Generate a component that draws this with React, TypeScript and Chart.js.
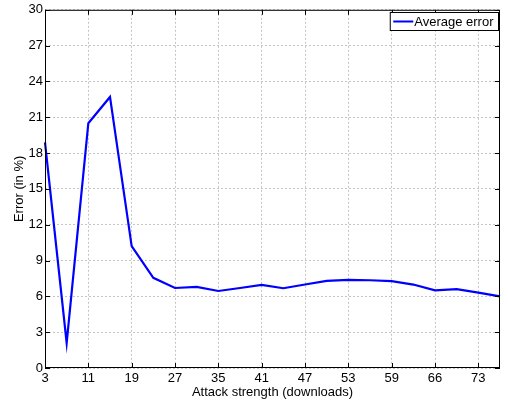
import React, { useEffect, useRef } from "react";
import { Chart, registerables } from "chart.js";

Chart.register(...registerables);

const categories = ["3", "7", "11", "15", "19", "23", "27", "31", "35", "38", "41", "44", "47", "50", "53", "56", "59", "62", "66", "69", "73", "76"];
const averageError = [18.9, 2.1, 20.5, 22.7, 10.2, 7.55, 6.7, 6.8, 6.45, 6.7, 6.96, 6.68, 6.99, 7.3, 7.38, 7.35, 7.27, 6.99, 6.5, 6.6, 6.32, 6.0];
const yTicks = [0, 3, 6, 9, 12, 15, 18, 21, 24, 27, 30];
const seriesName = "Average error";

const FONT = "'Liberation Sans', Arial, Helvetica, sans-serif";

const framePlugin = {
  id: "frame",
  afterDraw(chart: any) {
    const { ctx, chartArea: a, scales } = chart;
    ctx.save();
    ctx.strokeStyle = "#000";
    ctx.lineWidth = 1;
    ctx.setLineDash([]);
    ctx.strokeRect(a.left + 0.5, a.top + 0.5, a.right - a.left - 1, a.bottom - a.top - 1);
    const tl = 5;
    ctx.beginPath();
    scales.x.ticks.forEach((t: any, i: number) => {
      if (i % 2 !== 0) return;
      const x = Math.round(scales.x.getPixelForTick(i)) + 0.5;
      ctx.moveTo(x, a.bottom);
      ctx.lineTo(x, a.bottom - tl);
      ctx.moveTo(x, a.top);
      ctx.lineTo(x, a.top + tl);
    });
    scales.y.ticks.forEach((t: any, i: number) => {
      const y = Math.round(scales.y.getPixelForTick(i)) + 0.5;
      ctx.moveTo(a.left, y);
      ctx.lineTo(a.left + tl, y);
      ctx.moveTo(a.right, y);
      ctx.lineTo(a.right - tl, y);
    });
    ctx.stroke();

    // legend
    ctx.font = `13px ${FONT}`;
    const tw = ctx.measureText(seriesName).width;
    const bw = tw + 29;
    const bx = a.right - 1.5 - bw;
    const by = 12.5;
    const bh = 18;
    ctx.fillStyle = "#fff";
    ctx.fillRect(bx, by, bw, bh);
    ctx.strokeStyle = "#000";
    ctx.strokeRect(bx, by, bw, bh);
    ctx.strokeStyle = "#0000ff";
    ctx.lineWidth = 2;
    ctx.beginPath();
    ctx.moveTo(bx + 3, by + bh / 2);
    ctx.lineTo(bx + 23, by + bh / 2);
    ctx.stroke();
    ctx.fillStyle = "#000";
    ctx.textBaseline = "middle";
    ctx.textAlign = "left";
    ctx.fillText(seriesName, bx + 24, by + bh / 2 + 0.5);
    ctx.restore();
  },
};

export default function App() {
  const ref = useRef<HTMLCanvasElement>(null);
  useEffect(() => {
    if (!ref.current) return;
    const chart = new Chart(ref.current, {
      type: "line",
      data: {
        labels: categories,
        datasets: [
          {
            label: seriesName,
            data: averageError,
            borderColor: "#0000ff",
            backgroundColor: "#0000ff",
            borderWidth: 2.2,
            pointRadius: 0,
            tension: 0,
          },
        ],
      },
      options: {
        animation: false,
        responsive: false,
        maintainAspectRatio: false,
        layout: { padding: { left: 0, right: 8, top: 9, bottom: 0 } },
        plugins: { legend: { display: false }, tooltip: { enabled: false } },
        scales: {
          x: {
            type: "category",
            offset: false,
            border: { display: false, dash: [2, 2] },
            grid: {
              color: (c: any) => (c.index % 2 === 0 ? "#c4c4c4" : "rgba(0,0,0,0)"),
              drawTicks: false,
              lineWidth: 1,
            },
            ticks: {
              autoSkip: false,
              maxRotation: 0,
              color: "#000",
              font: { family: FONT, size: 13 },
              padding: 3,
              callback: (v: any, i: number) => (i % 2 === 0 ? categories[i] : ""),
            },
            title: {
              display: true,
              text: "Attack strength (downloads)",
              color: "#000",
              font: { family: FONT, size: 13 },
              padding: { top: 0, bottom: 5 },
            },
            afterFit: (s: any) => {
              s.height = 37;
            },
          },
          y: {
            min: 0,
            max: 30,
            border: { display: false, dash: [2, 2] },
            afterBuildTicks: (s: any) => {
              s.ticks = yTicks.map((v) => ({ value: v }));
            },
            grid: { color: "#c4c4c4", drawTicks: false, lineWidth: 1 },
            ticks: {
              color: "#000",
              font: { family: FONT, size: 13 },
              padding: 2,
            },
            title: {
              display: true,
              text: "Error (in %)",
              color: "#000",
              font: { family: FONT, size: 13 },
              padding: { top: 12, bottom: 0 },
            },
            afterFit: (s: any) => {
              s.width = 45;
            },
          },
        },
      },
      plugins: [framePlugin],
    } as any);
    return () => chart.destroy();
  }, []);
  return (
    <div style={{ position: "fixed", left: 0, top: 0, width: 508, height: 405, background: "#fff" }}>
      <canvas ref={ref} width={508} height={405} style={{ width: 508, height: 405 }} />
    </div>
  );
}
